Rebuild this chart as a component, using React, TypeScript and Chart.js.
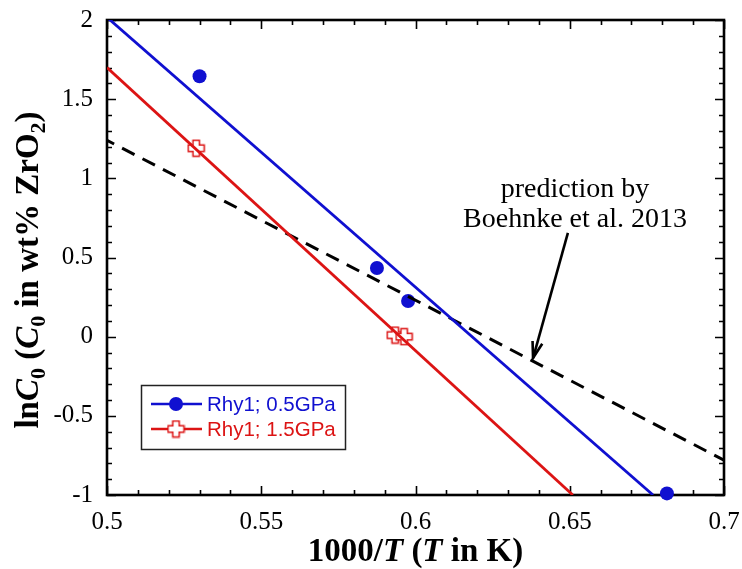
import React, { useEffect, useRef } from "react";
import { Chart, registerables } from "chart.js";

Chart.register(...registerables);

// ---- data ----
const blueX = [0.530, 0.5875, 0.5976, 0.6815];
const blueY = [1.645, 0.434, 0.225, -0.99];
const redX = [0.5289, 0.5934, 0.5963];
const redY = [1.19, 0.01, 0.0];
const blueFitX = [0.5, 0.677];
const blueFitY = [2.017, -1];
const redFitX = [0.5, 0.651];
const redFitY = [1.70, -1];
const predX = [0.5, 0.7];
const predY = [1.24, -0.78];
const xTickStep = 0.05;
const yTickStep = 0.5;
const xMinor = 0.01;
const yMinor = 0.1;
const legendLabels = ["Rhy1; 0.5GPa", "Rhy1; 1.5GPa"];
const noteLines = ["prediction by", "Boehnke et al. 2013"];
const noteAt = [0.6517, 0.835];
const arrowFrom = [0.6494, 0.655];
const arrowTo = [0.6381, -0.135];

const BLUE = "#1010d0";
const RED = "#dc1414";
const SERIF = '"Liberation Serif", "Times New Roman", serif';
const SANS = '"Liberation Sans", Arial, sans-serif';

function makePlus(): HTMLCanvasElement {
  const c = document.createElement("canvas");
  c.width = 19;
  c.height = 19;
  const g = c.getContext("2d")!;
  const m = 9.5, a = 8, w = 3.2;
  g.beginPath();
  g.moveTo(m - w, m - a);
  g.lineTo(m + w, m - a);
  g.lineTo(m + w, m - w);
  g.lineTo(m + a, m - w);
  g.lineTo(m + a, m + w);
  g.lineTo(m + w, m + w);
  g.lineTo(m + w, m + a);
  g.lineTo(m - w, m + a);
  g.lineTo(m - w, m + w);
  g.lineTo(m - a, m + w);
  g.lineTo(m - a, m - w);
  g.lineTo(m - w, m - w);
  g.closePath();
  g.fillStyle = "#fff";
  g.fill();
  g.strokeStyle = RED;
  g.lineWidth = 1.5;
  g.stroke();
  return c;
}

type Seg = { t: string; it?: boolean; sub?: boolean };

function drawRich(ctx: CanvasRenderingContext2D, segs: Seg[], size: number, cx: number, by: number) {
  const subSize = Math.round(size * 0.66);
  const fontOf = (s: Seg) => `${s.it ? "italic " : ""}bold ${s.sub ? subSize : size}px ${SERIF}`;
  let total = 0;
  for (const s of segs) {
    ctx.font = fontOf(s);
    total += ctx.measureText(s.t).width;
  }
  let x = cx - total / 2;
  ctx.textAlign = "left";
  ctx.textBaseline = "alphabetic";
  for (const s of segs) {
    ctx.font = fontOf(s);
    ctx.fillText(s.t, x, by + (s.sub ? size * 0.22 : 0));
    x += ctx.measureText(s.t).width;
  }
}

const fmt = (v: number | string) => String(+Number(v).toFixed(2));

const zeroPad = (s: any) => {
  s.paddingTop = 0;
  s.paddingBottom = 0;
  s.paddingLeft = 0;
  s.paddingRight = 0;
};

const decorPlugin = {
  id: "decor",
  beforeDatasetsDraw(chart: any) {
    const { ctx, chartArea: a, scales } = chart;
    const xs = scales.x, ys = scales.y;
    ctx.save();
    ctx.strokeStyle = "#000";
    ctx.lineWidth = 1.6;
    const eps = 1e-9;
    for (let v = xs.min; v <= xs.max + eps; v += xMinor) {
      const px = Math.round(xs.getPixelForValue(v)) + 0.5;
      const r = (v - xs.min) / xTickStep;
      const major = Math.abs(r - Math.round(r)) < 1e-6;
      const L = major ? 9 : 5;
      ctx.beginPath();
      ctx.moveTo(px, a.bottom);
      ctx.lineTo(px, a.bottom - L);
      ctx.moveTo(px, a.top);
      ctx.lineTo(px, a.top + L);
      ctx.stroke();
    }
    for (let v = ys.min; v <= ys.max + eps; v += yMinor) {
      const py = Math.round(ys.getPixelForValue(v)) + 0.5;
      const r = (v - ys.min) / yTickStep;
      const major = Math.abs(r - Math.round(r)) < 1e-6;
      const L = major ? 9 : 5;
      ctx.beginPath();
      ctx.moveTo(a.left, py);
      ctx.lineTo(a.left + L, py);
      ctx.moveTo(a.right, py);
      ctx.lineTo(a.right - L, py);
      ctx.stroke();
    }
    ctx.lineWidth = 2.6;
    ctx.strokeRect(a.left, a.top, a.right - a.left, a.bottom - a.top);
    ctx.restore();
  },
  afterDatasetsDraw(chart: any) {
    const { ctx, chartArea: a, scales } = chart;
    const xs = scales.x, ys = scales.y;
    ctx.save();
    ctx.fillStyle = "#000";
    ctx.font = `28px ${SERIF}`;
    ctx.textAlign = "center";
    ctx.textBaseline = "middle";
    const nx = xs.getPixelForValue(noteAt[0]);
    const ny = ys.getPixelForValue(noteAt[1]);
    ctx.fillText(noteLines[0], nx, ny - 15);
    ctx.fillText(noteLines[1], nx, ny + 15);
    const x1 = xs.getPixelForValue(arrowFrom[0]), y1 = ys.getPixelForValue(arrowFrom[1]);
    const x2 = xs.getPixelForValue(arrowTo[0]), y2 = ys.getPixelForValue(arrowTo[1]);
    ctx.strokeStyle = "#000";
    ctx.lineWidth = 2.6;
    ctx.beginPath();
    ctx.moveTo(x1, y1);
    ctx.lineTo(x2, y2);
    ctx.stroke();
    const ang = Math.atan2(y2 - y1, x2 - x1);
    const hl = 17, ha = 0.3;
    ctx.beginPath();
    ctx.moveTo(x2 - hl * Math.cos(ang - ha), y2 - hl * Math.sin(ang - ha));
    ctx.lineTo(x2, y2);
    ctx.lineTo(x2 - hl * Math.cos(ang + ha), y2 - hl * Math.sin(ang + ha));
    ctx.stroke();

    const bx = a.left + 34, by = a.bottom - 110, bw = 204, bh = 64;
    ctx.fillStyle = "#fff";
    ctx.fillRect(bx, by, bw, bh);
    ctx.strokeStyle = "#222";
    ctx.lineWidth = 1.5;
    ctx.strokeRect(bx + 0.5, by + 0.5, bw, bh);
    const rows = [
      { y: by + 19, color: BLUE, label: legendLabels[0] },
      { y: by + 44, color: RED, label: legendLabels[1] },
    ];
    rows.forEach((r, i) => {
      ctx.strokeStyle = r.color;
      ctx.lineWidth = 2.6;
      ctx.beginPath();
      ctx.moveTo(bx + 10, r.y);
      ctx.lineTo(bx + 61, r.y);
      ctx.stroke();
      if (i === 0) {
        ctx.fillStyle = BLUE;
        ctx.beginPath();
        ctx.arc(bx + 35, r.y, 7, 0, Math.PI * 2);
        ctx.fill();
      } else {
        ctx.drawImage(plusImg, bx + 35 - 9.5, r.y - 9.5);
      }
      ctx.fillStyle = r.color;
      ctx.font = `20.5px ${SANS}`;
      ctx.textAlign = "left";
      ctx.textBaseline = "middle";
      ctx.fillText(r.label, bx + 66, r.y + 1);
    });

    ctx.fillStyle = "#000";
    drawRich(ctx, [
      { t: "1000/" },
      { t: "T", it: true },
      { t: " (" },
      { t: "T", it: true },
      { t: " in K)" },
    ], 33, (a.left + a.right) / 2, 561);
    ctx.save();
    ctx.translate(38, 270);
    ctx.rotate(-Math.PI / 2);
    drawRich(ctx, [
      { t: "ln" },
      { t: "C", it: true },
      { t: "0", sub: true },
      { t: " (" },
      { t: "C", it: true },
      { t: "0", sub: true },
      { t: " in wt% ZrO" },
      { t: "2", sub: true },
      { t: ")" },
    ], 33, 0, 0);
    ctx.restore();
    ctx.restore();
  },
};

let plusImg: HTMLCanvasElement;

export default function App() {
  const ref = useRef<HTMLCanvasElement>(null);
  useEffect(() => {
    plusImg = makePlus();
    const toPts = (xs: number[], ys: number[]) => xs.map((x, i) => ({ x, y: ys[i] }));
    const chart = new Chart(ref.current!, {
      type: "scatter",
      data: {
        datasets: [
          {
            type: "line",
            data: toPts(blueFitX, blueFitY),
            borderColor: BLUE,
            borderWidth: 2.8,
            pointRadius: 0,
            showLine: true,
          } as any,
          {
            type: "line",
            data: toPts(redFitX, redFitY),
            borderColor: RED,
            borderWidth: 2.8,
            pointRadius: 0,
            showLine: true,
          } as any,
          {
            type: "line",
            data: toPts(predX, predY),
            borderColor: "#000",
            borderWidth: 3,
            borderDash: [14, 9],
            borderDashOffset: 6,
            pointRadius: 0,
            showLine: true,
          } as any,
          {
            data: toPts(blueX, blueY),
            backgroundColor: BLUE,
            borderWidth: 0,
            pointRadius: 7,
            clip: false,
          } as any,
          {
            data: toPts(redX, redY),
            pointStyle: plusImg,
            pointRadius: 9,
            clip: false,
          } as any,
        ],
      },
      options: {
        animation: false,
        responsive: false,
        layout: { padding: { top: 20, right: 18, left: 0, bottom: 0 } },
        plugins: { legend: { display: false }, tooltip: { enabled: false } },
        scales: {
          x: {
            type: "linear",
            min: 0.5,
            max: 0.7,
            grid: { display: false, drawTicks: false },
            border: { display: false },
            ticks: {
              stepSize: xTickStep,
              autoSkip: false,
              maxRotation: 0,
              padding: 12,
              color: "#000",
              font: { family: SERIF, size: 25 },
              callback: fmt,
            },
            afterFit: (s: any) => { s.height = 74; zeroPad(s); },
          },
          y: {
            type: "linear",
            min: -1,
            max: 2,
            grid: { display: false, drawTicks: false },
            border: { display: false },
            ticks: {
              stepSize: yTickStep,
              autoSkip: false,
              padding: 14,
              color: "#000",
              font: { family: SERIF, size: 25 },
              callback: fmt,
            },
            afterFit: (s: any) => { s.width = 107; zeroPad(s); },
          },
        },
      },
      plugins: [decorPlugin],
    });
    return () => chart.destroy();
  }, []);
  return (
    <canvas
      ref={ref}
      width={742}
      height={569}
      style={{ position: "fixed", left: 0, top: 0, display: "block" }}
    />
  );
}
